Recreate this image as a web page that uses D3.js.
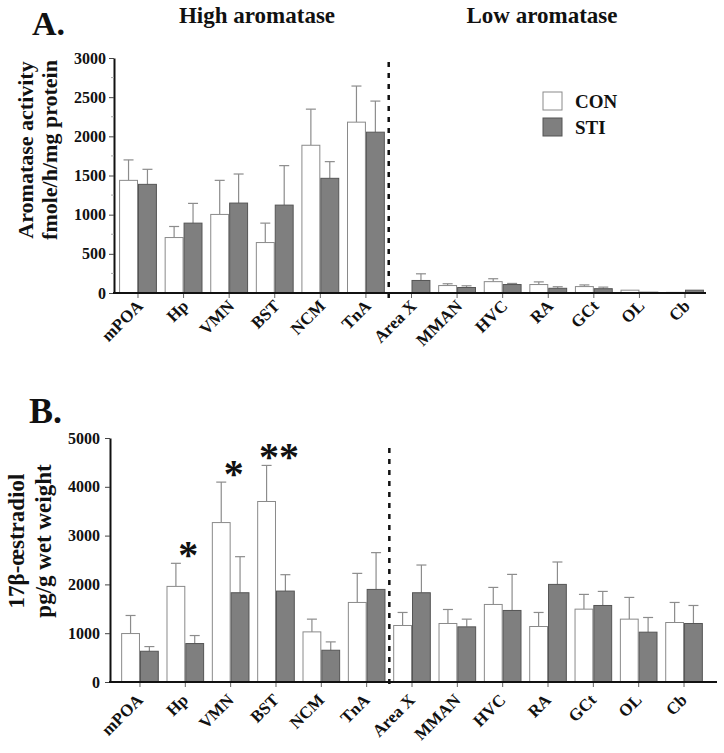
<!DOCTYPE html>
<html>
<head>
<meta charset="utf-8">
<script src="https://cdn.jsdelivr.net/npm/d3@7"></script>
<style>
  html, body { margin: 0; padding: 0; background: #fff; }
  svg { display: block; }
  text { font-family: "Liberation Serif", "Times New Roman", serif; font-weight: bold; fill: #111; }
</style>
</head>
<body>
<svg id="chart" width="724" height="753"></svg>
<script>
// ---------- data ----------
const categories = ["mPOA", "Hp", "VMN", "BST", "NCM", "TnA", "Area X", "MMAN", "HVC", "RA", "GCt", "OL", "Cb"];
const groups = ["CON", "STI"];

// Panel A: aromatase activity (fmole/h/mg protein)
const aromCON    = [1438, 708, 1003, 644, 1886, 2181, 0, 95, 145, 108, 82, 36, 8];
const aromCONsem = [261, 141, 435, 248, 461, 461, 0, 23, 37, 34, 21, 0, 0];
const aromSTI    = [1387, 892, 1148, 1122, 1464, 2053, 160, 70, 108, 60, 55, 10, 36];
const aromSTIsem = [192, 252, 371, 504, 213, 397, 85, 22, 14, 20, 20, 0, 0];
const aromTicks  = [0, 500, 1000, 1500, 2000, 2500, 3000];

// Panel B: 17β-oestradiol (pg/g wet weight)
const e2CON    = [993, 1959, 3267, 3699, 1027, 1630, 1158, 1199, 1589, 1137, 1493, 1288, 1219];
const e2CONsem = [370, 473, 829, 739, 261, 596, 267, 287, 349, 288, 302, 445, 411];
const e2STI    = [630, 788, 1829, 1863, 651, 1897, 1829, 1130, 1466, 2000, 1568, 1021, 1199];
const e2STIsem = [96, 164, 739, 336, 171, 754, 568, 158, 739, 459, 288, 301, 369];
const e2Ticks  = [0, 1000, 2000, 3000, 4000, 5000];
const e2Sig    = ["", "*", "*", "**", "", "", "", "", "", "", "", "", ""];

const highLowSplit = ["TnA", "Area X"]; // dashed divider between these
const regionTitles = ["High aromatase", "Low aromatase"];

// ---------- drawing ----------
const svg = d3.select("#chart");
svg.append("rect").attr("width", 724).attr("height", 753).attr("fill", "#fff");

const colors = { CON: "#ffffff", STI: "#7f7f7f" };
const strokes = { CON: "#8a8a8a", STI: "#555555" };

function drawPanel(o) {
  const g = svg.append("g");
  const y = d3.scaleLinear().domain([0, o.yMax]).range([o.y0, o.y1]);
  const x0 = d3.scaleBand().domain(categories).range([o.xr0, o.xr1])
    .paddingInner(0.17).paddingOuter(0.085);
  const x1 = d3.scaleBand().domain(groups).range([0, x0.bandwidth()]);

  const rows = categories.map((c, i) => ({
    cat: c,
    vals: [
      { grp: "CON", v: o.con[i], sem: o.conSem[i] },
      { grp: "STI", v: o.sti[i], sem: o.stiSem[i] }
    ]
  }));

  // error bars (behind bars)
  const eg = g.append("g");
  rows.forEach(r => r.vals.forEach(d => {
    if (d.sem <= 0) return;
    const cx = x0(r.cat) + x1(d.grp) + x1.bandwidth() / 2;
    eg.append("line").attr("x1", cx).attr("x2", cx)
      .attr("y1", y(d.v)).attr("y2", y(d.v + d.sem))
      .attr("stroke", "#8c8c8c").attr("stroke-width", 1.2);
    eg.append("line").attr("x1", cx - 5).attr("x2", cx + 5)
      .attr("y1", y(d.v + d.sem)).attr("y2", y(d.v + d.sem))
      .attr("stroke", "#8c8c8c").attr("stroke-width", 1.2);
  }));

  // bars
  const bg = g.append("g");
  rows.forEach(r => r.vals.forEach(d => {
    if (d.v <= 0) return;
    bg.append("rect")
      .attr("x", x0(r.cat) + x1(d.grp) + 0.5)
      .attr("width", x1.bandwidth() - 1)
      .attr("y", y(d.v))
      .attr("height", y(0) - y(d.v))
      .attr("fill", colors[d.grp])
      .attr("stroke", strokes[d.grp])
      .attr("stroke-width", 1);
  }));

  // y axis
  const ya = g.append("g").attr("transform", `translate(${o.yAxisX},0)`)
    .call(d3.axisLeft(y).tickValues(o.ticks).tickFormat(d3.format("d"))
      .tickSize(5).tickPadding(o.tickPad).tickSizeOuter(0));
  ya.attr("font-family", null).attr("font-size", null);
  ya.select(".domain").attr("stroke", "#111").attr("stroke-width", 2);
  ya.selectAll(".tick line").attr("stroke", "#444").attr("stroke-width", 1);
  ya.selectAll(".tick text").style("font-size", "16px").attr("fill", "#111");

  if (o.minor) {
    const minorTicks = d3.range(o.minor, o.yMax, o.minor).filter(v => !o.ticks.includes(v));
    g.append("g").selectAll("line").data(minorTicks).join("line")
      .attr("x1", o.yAxisX - 3).attr("x2", o.yAxisX)
      .attr("y1", d => y(d)).attr("y2", d => y(d))
      .attr("stroke", "#aaa").attr("stroke-width", 1);
  }

  // x axis (ticks only; labels drawn rotated below)
  const xa = g.append("g").attr("transform", `translate(0,${o.y0})`)
    .call(d3.axisBottom(x0).tickSize(5).tickSizeOuter(0).tickFormat(() => ""));
  xa.select(".domain").remove();
  xa.selectAll(".tick text").remove();
  xa.selectAll(".tick line").attr("stroke", "#666");
  g.append("line").attr("x1", o.yAxisX - 1).attr("x2", o.xAxisEnd)
    .attr("y1", o.y0).attr("y2", o.y0).attr("stroke", "#111").attr("stroke-width", 2);

  // x labels, rotated 45°
  g.append("g").selectAll("text").data(categories).join("text")
    .attr("text-anchor", "end")
    .attr("x", c => x0(c) + x0.bandwidth() / 2 + o.labDx)
    .attr("y", o.y0 + o.labDy)
    .attr("transform", c => `rotate(-45 ${x0(c) + x0.bandwidth() / 2 + o.labDx} ${o.y0 + o.labDy})`)
    .style("font-size", "17px")
    .text(c => c);

  // divider
  const xd = (x0(highLowSplit[0]) + x0.bandwidth() + x0(highLowSplit[1])) / 2;
  g.append("line").attr("x1", xd).attr("x2", xd)
    .attr("y1", o.dashTop).attr("y2", o.y0 + 5)
    .attr("stroke", "#111").attr("stroke-width", 2.5).attr("stroke-dasharray", "5,6");

  // y label
  const yl = g.append("text").attr("text-anchor", "middle")
    .attr("transform", `translate(${o.ylabX},${o.ylabY}) rotate(-90)`)
    .style("font-size", o.ylabSize + "px");
  yl.append("tspan").attr("x", 0).attr("dy", 0).text(o.ylab[0]);
  yl.append("tspan").attr("x", 0).attr("dy", o.ylabGap).text(o.ylab[1]);

  // panel letter
  g.append("text").attr("x", o.letterX).attr("y", o.letterY)
    .style("font-size", o.letterSize + "px").text(o.letter);

  // significance
  if (o.sig) {
    g.append("g").selectAll("text").data(categories.map((c, i) => ({ c, s: o.sig[i], top: o.con[i] + o.conSem[i] })))
      .join("text")
      .attr("text-anchor", "middle")
      .attr("x", d => x0(d.c) + x0.bandwidth() / 2 + 3)
      .attr("y", d => y(d.top) - 15 + 0.5 * 40)
      .style("font-size", "40px")
      .text(d => d.s);
  }
  return { x0, y };
}

drawPanel({
  con: aromCON, conSem: aromCONsem, sti: aromSTI, stiSem: aromSTIsem,
  yMax: 3000, ticks: aromTicks, minor: 250,
  y0: 293, y1: 58, xr0: 115.2, xr1: 707.8, yAxisX: 114, xAxisEnd: 706, tickPad: 3,
  labDx: 6, labDy: 14, dashTop: 62,
  ylab: ["Aromatase activity", "fmole/h/mg protein"], ylabX: 33, ylabY: 150, ylabGap: 24, ylabSize: 22,
  letter: "A.", letterX: 32, letterY: 35, letterSize: 34
});

// region titles (panel A)
svg.append("text").attr("x", 257).attr("y", 23).attr("text-anchor", "middle")
  .style("font-size", "23px").text(regionTitles[0]);
svg.append("text").attr("x", 542).attr("y", 23).attr("text-anchor", "middle")
  .style("font-size", "23px").text(regionTitles[1]);

// legend
const lg = svg.append("g").attr("transform", "translate(543,92)");
groups.forEach((gname, i) => {
  lg.append("rect").attr("x", 0).attr("y", i * 26).attr("width", 19).attr("height", 18)
    .attr("fill", colors[gname]).attr("stroke", strokes[gname]).attr("stroke-width", 1);
  lg.append("text").attr("x", 32).attr("y", i * 26 + 16).style("font-size", "19px").text(gname);
});

drawPanel({
  con: e2CON, conSem: e2CONsem, sti: e2STI, stiSem: e2STIsem,
  yMax: 5000, ticks: e2Ticks, minor: 0,
  y0: 682, y1: 438, xr0: 117.3, xr1: 706.7, yAxisX: 110, xAxisEnd: 717, tickPad: 5,
  labDx: 4, labDy: 19, dashTop: 448,
  ylab: ["17β-œstradiol", "pg/g wet weight"], ylabX: 24, ylabY: 541, ylabGap: 27, ylabSize: 23,
  letter: "B.", letterX: 29, letterY: 423, letterSize: 36,
  sig: e2Sig
});
</script>
</body>
</html>
